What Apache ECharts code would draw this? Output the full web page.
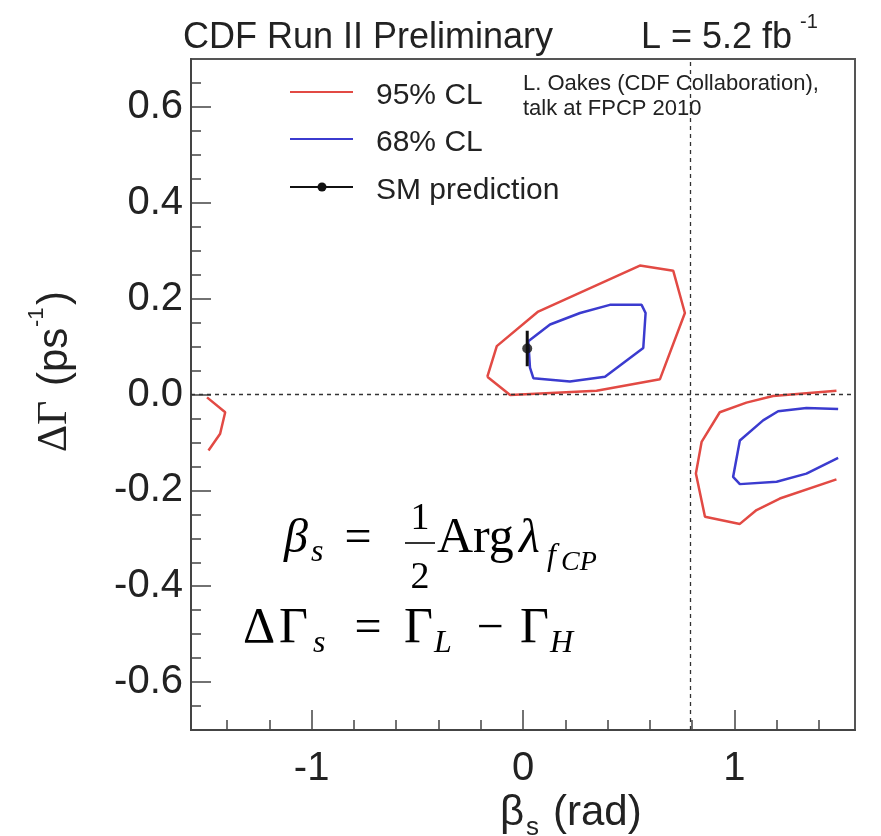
<!DOCTYPE html>
<html><head><meta charset="utf-8">
<script src="https://cdn.jsdelivr.net/npm/echarts@6/dist/echarts.min.js"></script>
<style>html,body{margin:0;padding:0;background:#fff}#c{width:881px;height:836px}</style>
</head><body><div id="c"></div>
<script>
// ---- axis ranges & ticks ----
const xMin = -Math.PI / 2, xMax = Math.PI / 2;
const yMin = -0.7, yMax = 0.7;
const xMajorTicks = [-1, 0, 1];
const xTickLabels = ['-1', '0', '1'];
const xMinorTicks = [-1.4, -1.2, -0.8, -0.6, -0.4, -0.2, 0.2, 0.4, 0.6, 0.8, 1.2, 1.4];
const yMajorTicks = [-0.6, -0.4, -0.2, 0, 0.2, 0.4, 0.6];
const yTickLabels = ['-0.6', '-0.4', '-0.2', '0.0', '0.2', '0.4', '0.6'];
const yMinorTicks = [-0.65, -0.55, -0.5, -0.45, -0.35, -0.3, -0.25, -0.15, -0.1, -0.05,
                     0.05, 0.1, 0.15, 0.25, 0.3, 0.35, 0.45, 0.5, 0.55, 0.65];
const refBetaLine = Math.PI / 4;
const refDGLine = 0;

// ---- contours (beta_s [rad], DeltaGamma [ps^-1]) ----
const cl95Main = [[-0.169,0.037],[-0.124,0.101],[0.072,0.173],[0.553,0.269],[0.711,0.258],
                  [0.766,0.170],[0.648,0.032],[0.348,0.008],[-0.061,-0.001],[-0.169,0.037]];
const cl95Right = [[1.483,0.008],[1.183,-0.003],[1.057,-0.017],[0.931,-0.037],[0.845,-0.099],
                   [0.818,-0.165],[0.861,-0.255],[1.026,-0.270],[1.105,-0.241],[1.215,-0.217],[1.483,-0.177]];
const cl95Left = [[-1.495,-0.006],[-1.409,-0.037],[-1.433,-0.082],[-1.488,-0.117]];
const cl68Main = [[0.025,0.111],[0.128,0.146],[0.270,0.170],[0.411,0.187],[0.561,0.187],[0.580,0.170],
                  [0.569,0.097],[0.388,0.037],[0.222,0.027],[0.049,0.034],[0.033,0.056],[0.025,0.111]];
const cl68Right = [[1.491,-0.030],[1.341,-0.028],[1.207,-0.035],[1.136,-0.054],[1.026,-0.096],
                   [0.994,-0.172],[1.026,-0.187],[1.200,-0.182],[1.341,-0.165],[1.491,-0.132]];

// ---- SM prediction ----
const smBeta = 0.02;
const smDG = 0.096;
const smErr = 0.037;

const seriesNames = ['95% CL', '68% CL', 'SM prediction'];

const RED = '#e24a44', BLUE = '#3b3bcf', BLACK = '#111';
const SANS = "'Liberation Sans', Arial, Helvetica, sans-serif";
const SERIF = "'Liberation Serif', 'Times New Roman', serif";

function lookup(vals, labels) {
  return function (v) {
    for (let i = 0; i < vals.length; i++) if (Math.abs(vals[i] - v) < 1e-9) return labels[i];
    return '';
  };
}

const chart = echarts.init(document.getElementById('c'), null, { renderer: 'canvas' });

function contour(name, data, color) {
  return {
    name: name, type: 'line', data: data, symbol: 'none', showSymbol: false,
    lineStyle: { color: color, width: 2.5 }, itemStyle: { color: color },
    z: 3, silent: true
  };
}

function txt(text, x, y, size, opts) {
  opts = opts || {};
  return {
    type: 'text', x: x, y: y, silent: true, z: 100,
    style: {
      text: text,
      font: (opts.style || '') + ' ' + size + 'px ' + (opts.family || SANS),
      fill: opts.color || '#222',
      textAlign: opts.align || 'left',
      textVerticalAlign: 'middle'
    }
  };
}
const M = { family: SERIF, color: '#000' };
const MI = { family: SERIF, style: 'italic', color: '#000' };
const MC = { family: SERIF, align: 'center', color: '#000' };

const graphics = [
  // title
  txt('CDF Run II Preliminary', 183, 38, 36),
  txt('L = 5.2 fb', 641, 38, 36),
  txt('-1', 800, 22, 20),
  // note
  txt('L. Oakes (CDF Collaboration),', 523, 84, 22),
  txt('talk at FPCP 2010', 523, 109, 22),
  // legend
  { type: 'line', silent: true, z: 100, shape: { x1: 290, y1: 92, x2: 353, y2: 92 }, style: { stroke: RED, lineWidth: 2 } },
  txt('95% CL', 376, 96, 30),
  { type: 'line', silent: true, z: 100, shape: { x1: 290, y1: 139, x2: 353, y2: 139 }, style: { stroke: BLUE, lineWidth: 2 } },
  txt('68% CL', 376, 143, 30),
  { type: 'line', silent: true, z: 100, shape: { x1: 290, y1: 187, x2: 353, y2: 187 }, style: { stroke: BLACK, lineWidth: 2 } },
  { type: 'circle', silent: true, z: 101, shape: { cx: 322, cy: 187, r: 4.5 }, style: { fill: BLACK } },
  txt('SM prediction', 376, 191, 30),
  // x-axis title
  txt('\u03b2', 500, 813, 42),
  txt('s', 526, 828, 26),
  txt('(rad)', 553, 813, 42),
  // formula line 1
  txt('\u03b2', 284, 539, 48, MI),
  txt('s', 311, 553, 32, MI),
  txt('=', 358, 539, 48, MC),
  txt('1', 420, 519, 38, MC),
  { type: 'line', silent: true, z: 100, shape: { x1: 405, y1: 543, x2: 435, y2: 543 }, style: { stroke: '#000', lineWidth: 1.6 } },
  txt('2', 420, 578, 38, MC),
  txt('Arg', 437, 539, 50, M),
  txt('\u03bb', 519, 539, 48, MI),
  txt('f', 547, 557, 32, MI),
  txt('CP', 561, 563, 28, MI),
  // formula line 2
  txt('\u0394', 243, 629, 50, M),
  txt('\u0393', 279, 629, 50, M),
  txt('s', 313, 644, 32, MI),
  txt('=', 368, 629, 48, MC),
  txt('\u0393', 404, 629, 50, M),
  txt('L', 434, 644, 32, MI),
  txt('\u2212', 490, 629, 48, MC),
  txt('\u0393', 520, 629, 50, M),
  txt('H', 550, 644, 32, MI),
  // y-axis title (rotated)
  {
    type: 'group', x: 55, y: 452, rotation: Math.PI / 2, silent: true, z: 100,
    children: [
      txt('\u0394\u0393', 0, 0, 42, { family: SERIF }),
      txt('(ps', 66, 0, 42),
      txt('-1', 125, -18, 22),
      txt(')', 147, 0, 42)
    ]
  }
];

const axisLineStyle = { color: '#444', width: 2 };
const tickStyle = { color: '#444', width: 1.5 };

const option = {
  animation: false,
  backgroundColor: '#fff',
  grid: { left: 191, top: 59, width: 664, height: 671, show: true, borderColor: '#555', borderWidth: 2, backgroundColor: 'transparent' },
  xAxis: [
    {
      type: 'value', min: xMin, max: xMax, position: 'bottom',
      axisLine: { show: true, onZero: false, lineStyle: axisLineStyle },
      axisTick: { show: true, inside: true, length: 20, customValues: xMajorTicks, lineStyle: tickStyle },
      axisLabel: { customValues: xMajorTicks, formatter: lookup(xMajorTicks, xTickLabels),
                   fontSize: 40, fontFamily: SANS, color: '#222', margin: 19 },
      splitLine: { show: false }
    },
    {
      type: 'value', min: xMin, max: xMax, position: 'bottom',
      axisLine: { show: false, onZero: false },
      axisTick: { show: true, inside: true, length: 10, customValues: xMinorTicks, lineStyle: tickStyle },
      axisLabel: { show: false },
      splitLine: { show: false }
    }
  ],
  yAxis: [
    {
      type: 'value', min: yMin, max: yMax, position: 'left',
      axisLine: { show: true, onZero: false, lineStyle: axisLineStyle },
      axisTick: { show: true, inside: true, length: 20, customValues: yMajorTicks, lineStyle: tickStyle },
      axisLabel: { customValues: yMajorTicks, formatter: lookup(yMajorTicks, yTickLabels),
                   fontSize: 40, fontFamily: SANS, color: '#222', margin: 8 },
      splitLine: { show: false }
    },
    {
      type: 'value', min: yMin, max: yMax, position: 'left',
      axisLine: { show: false, onZero: false },
      axisTick: { show: true, inside: true, length: 10, customValues: yMinorTicks, lineStyle: tickStyle },
      axisLabel: { show: false },
      splitLine: { show: false }
    }
  ],
  graphic: graphics,
  series: [
    contour(seriesNames[0], cl95Main, RED),
    contour(seriesNames[0], cl95Right, RED),
    contour(seriesNames[0], cl95Left, RED),
    contour(seriesNames[1], cl68Main, BLUE),
    contour(seriesNames[1], cl68Right, BLUE),
    {
      name: seriesNames[2], type: 'line', data: [[smBeta, smDG - smErr], [smBeta, smDG + smErr]],
      symbol: 'none', lineStyle: { color: BLACK, width: 3 }, z: 4, silent: true,
      markLine: {
        silent: true, symbol: ['none', 'none'], label: { show: false },
        lineStyle: { color: '#333', width: 1.3, type: [4, 4] },
        data: [{ xAxis: refBetaLine }, { yAxis: refDGLine }]
      }
    },
    {
      name: seriesNames[2], type: 'scatter', data: [[smBeta, smDG]],
      symbol: 'circle', symbolSize: 10, itemStyle: { color: BLACK }, z: 5, silent: true
    }
  ]
};
chart.setOption(option);
</script>
</body></html>
